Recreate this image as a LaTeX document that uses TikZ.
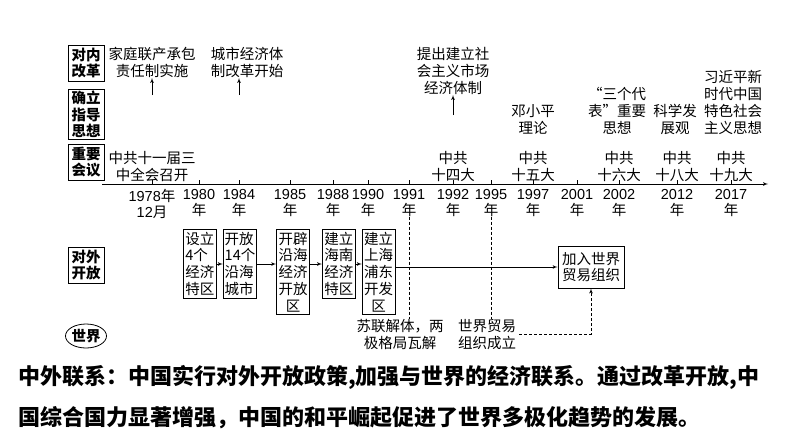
\documentclass[tikz,border=0pt]{standalone}
\usepackage{fontspec}
\setmainfont{Noto Sans CJK SC}
\newfontfamily\lat{Liberation Sans}
\usepackage{tikz}
\usetikzlibrary{arrows}
\usetikzlibrary{shapes,positioning}
\tikzset{catbox/.style={draw, line width=1pt, align=center, inner sep=1.5pt, minimum width=36pt, font=\bfseries\fontsize{14.5}{16.5}\selectfont}}
\tikzset{evbox/.style={draw, line width=0.8pt, align=left, inner xsep=1.5pt, inner ysep=2.5pt, minimum width=33pt, font=\fontsize{14.5}{16.8}\selectfont}}
\tikzset{lbl/.style={align=center, inner sep=0pt, font=\fontsize{14.5}{17}\selectfont}}
\tikzset{yr/.style={align=center, inner sep=0pt, anchor=north, font=\fontsize{14.5}{16}\selectfont}}
\tikzset{line/.style={draw, line width=0.7pt, -latex'}}
\tikzset{dline/.style={draw, line width=0.7pt, dash pattern=on 3pt off 2pt}}

\begin{document}
\begin{tikzpicture}[x=1pt,y=-1pt]
				\useasboundingbox (0,0) rectangle (794,447);
				\node [catbox, minimum height=36pt]                  (nei)     at (86,63)    {对内\\改革};
				\node [catbox, minimum height=49pt]                  (zhidao)  at (86,114.5) {确立\\指导\\思想};
				\node [catbox, minimum height=36pt]                  (huiyi)   at (86,162)   {重要\\会议};
				\node [catbox, minimum height=36pt]                  (wai)     at (86,265)   {对外\\开放};
				\node [catbox, ellipse, inner sep=0pt, line width=0.8pt, minimum width=36pt, minimum height=24pt] (shijie) at (86,336) {世界};
				%
				\coordinate (ax0) at (102,184);
				\coordinate (ax1) at (768,184);
				\path [line] (ax0) -- (ax1);
				\draw [line width=0.7pt] (152,184) -- ++(0,-4) (199,184) -- ++(0,-4) (239,184) -- ++(0,-4) (290,184) -- ++(0,-4)
				      (333,184) -- ++(0,-4) (368,184) -- ++(0,-4) (409,184) -- ++(0,-4) (453,184) -- ++(0,-4) (491,184) -- ++(0,-4)
				      (533,184) -- ++(0,-4) (577,184) -- ++(0,-4) (619,184) -- ++(0,-4) (677,184) -- ++(0,-4) (731,184) -- ++(0,-4);
				\node [yr] (y1978) at (152,189) {{\lat 1978}年\\{\lat 12}月};
				\node [yr] (y1980) at (199,189) {{\lat 1980}\\年};
				\node [yr] (y1984) at (239,189) {{\lat 1984}\\年};
				\node [yr] (y1985) at (290,189) {{\lat 1985}\\年};
				\node [yr] (y1988) at (333,189) {{\lat 1988}\\年};
				\node [yr] (y1990) at (368,189) {{\lat 1990}\\年};
				\node [yr] (y1991) at (409,189) {{\lat 1991}\\年};
				\node [yr] (y1992) at (453,189) {{\lat 1992}\\年};
				\node [yr] (y1995) at (491,189) {{\lat 1995}\\年};
				\node [yr] (y1997) at (533,189) {{\lat 1997}\\年};
				\node [yr] (y2001) at (577,189) {{\lat 2001}\\年};
				\node [yr] (y2002) at (619,189) {{\lat 2002}\\年};
				\node [yr] (y2012) at (677,189) {{\lat 2012}\\年};
				\node [yr] (y2017) at (731,189) {{\lat 2017}\\年};
				%
				\node [lbl, anchor=south] (jiating)  at (152,78)  {家庭联产承包\\责任制实施};
				\node [lbl, anchor=south] (chengshi) at (247,78)  {城市经济体\\制改革开始};
				\node [lbl, anchor=south] (shichang) at (453,95)  {提出建立社\\会主义市场\\经济体制};
				\node [lbl, anchor=south] (deng)     at (533,135) {邓小平\\理论};
				\node [lbl, anchor=south] (sange)    at (617,135) {“三个代\\表”重要\\思想};
				\node [lbl, anchor=south] (kexue)    at (675,135) {科学发\\展观};
				\node [lbl, anchor=south] (xi)       at (733,135) {习近平新\\时代中国\\特色社会\\主义思想};
				\node [lbl, anchor=south] (h11)      at (152,182) {中共十一届三\\中全会召开};
				\node [lbl, anchor=south] (h14)      at (453,182) {中共\\十四大};
				\node [lbl, anchor=south] (h15)      at (533,182) {中共\\十五大};
				\node [lbl, anchor=south] (h16)      at (619,182) {中共\\十六大};
				\node [lbl, anchor=south] (h18)      at (677,182) {中共\\十八大};
				\node [lbl, anchor=south] (h19)      at (731,182) {中共\\十九大};
				\coordinate (p78) at (152,95);
				\coordinate (p84) at (239,95);
				\coordinate (p92) at (453,115);
				\path [line] (p78) -- (jiating.south -| p78);
				\path [line] (p84) -- (chengshi.south -| p84);
				\path [line] (p92) -- (shichang.south -| p92);
				%
				\node [evbox, anchor=north west]                                    (s1)  at (183,229) {设立\\4个\\经济\\特区};
				\node [evbox, right=6pt of s1.north east, anchor=north west]        (s2)  {开放\\14个\\沿海\\城市};
				\node [evbox, right=19pt of s2.north east, anchor=north west, align=center] (s3)  {开辟\\沿海\\经济\\开放\\区};
				\node [evbox, right=12pt of s3.north east, anchor=north west]       (s4)  {建立\\海南\\经济\\特区};
				\node [evbox, right=6pt of s4.north east, anchor=north west, align=center]  (s5)  {建立\\上海\\浦东\\开发\\区};
				\node [evbox, align=center, minimum width=66pt, minimum height=42pt] (wto) at (591,267) {加入世界\\贸易组织};
				\node [lbl, anchor=north] (sulian) at (400,319) {苏联解体，两\\极格局瓦解};
				\node [lbl, anchor=north] (wtoe)   at (487,319) {世界贸易\\组织成立};
				\coordinate (row) at (0,264);
				%
				\path [line] (s1.east |- row) -- (s2.west |- row);
				\path [line] (s2.east |- row) -- (s3.west |- row);
				\path [line] (s3.east |- row) -- (s4.west |- row);
				\path [line] (s4.east |- row) -- (s5.west |- row);
				\path [line] (s5.east |- wto.west) -- (wto.west);
				\path [dline] (y1991.south) -- (y1991.south |- sulian.north);
				\path [dline] (y1995.south) -- (y1995.south |- wtoe.north);
				\path [dline, -latex'] ([xshift=3pt]wtoe.east) -| (wto.south);
				%
				\node [anchor=west, inner sep=0pt, font=\bfseries\fontsize{22}{24}\selectfont] (sum1) at (18,377) {中外联系：中国实行对外开放政策,加强与世界的经济联系。通过改革开放,中};
				\node [anchor=west, inner sep=0pt, font=\bfseries\fontsize{22}{24}\selectfont] (sum2) at (18,418) {国综合国力显著增强，中国的和平崛起促进了世界多极化趋势的发展。};
\end{tikzpicture}
\end{document}
